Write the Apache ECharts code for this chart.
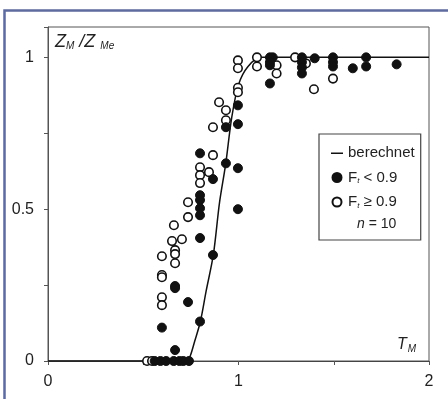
<!DOCTYPE html>
<html>
<head>
<meta charset="utf-8">
<script src="https://cdn.jsdelivr.net/npm/echarts@6/dist/echarts.min.js"></script>
<style>
  html, body { margin: 0; padding: 0; background: #fff; }
  #chart { width: 448px; height: 399px; }
</style>
</head>
<body>
<div id="chart"></div>
<script>
// berechnete Kurve
const curveT = [0, 0.70, 0.73, 0.745, 0.77, 0.80, 0.83, 0.868, 0.90, 0.933, 0.964, 1.00, 1.05, 1.12, 2.0];
const curveZ = [0, 0, 0.004, 0.014, 0.065, 0.13, 0.23, 0.35, 0.52, 0.65, 0.80, 0.91, 0.97, 1.0, 1.0];

// Messpunkte Ft < 0.9 (gefüllt)
const lowT = [1.165, 1.18, 1.165, 1.165, 1.165, 1.333, 1.333, 1.333, 1.333, 1.40, 1.496, 1.496, 1.496, 1.60, 1.67, 1.67, 1.83,
  0.997, 0.997, 0.934, 0.997, 0.934, 0.798, 0.866, 0.798, 0.798, 0.798, 0.798, 0.997, 0.798, 0.866, 0.667, 0.667, 0.735, 0.598, 0.798, 0.667,
  0.56, 0.59, 0.62, 0.66, 0.69, 0.71, 0.74];
const lowZ = [1.0, 1.0, 0.984, 0.974, 0.914, 1.0, 0.984, 0.967, 0.947, 0.997, 1.0, 0.984, 0.97, 0.964, 1.0, 0.97, 0.977,
  0.842, 0.78, 0.77, 0.635, 0.651, 0.684, 0.599, 0.546, 0.53, 0.503, 0.48, 0.5, 0.405, 0.349, 0.247, 0.24, 0.194, 0.11, 0.13, 0.036,
  0, 0, 0, 0, 0, 0, 0];

// Messpunkte Ft >= 0.9 (offen)
const highT = [0.997, 0.997, 1.097, 1.097, 1.20, 1.20, 1.297, 1.354, 1.396, 1.496, 0.997, 0.997, 0.898, 0.934, 0.934, 0.866, 0.866,
  0.798, 0.798, 0.845, 0.798, 0.735, 0.735, 0.661, 0.651, 0.703, 0.667, 0.667, 0.667, 0.598, 0.598, 0.598, 0.598, 0.598, 0.52, 0.546];
const highZ = [0.99, 0.964, 1.0, 0.97, 0.974, 0.947, 1.0, 0.98, 0.895, 0.93, 0.90, 0.885, 0.852, 0.826, 0.793, 0.77, 0.678,
  0.638, 0.612, 0.622, 0.586, 0.523, 0.474, 0.447, 0.395, 0.401, 0.365, 0.352, 0.322, 0.345, 0.283, 0.276, 0.21, 0.184, 0, 0];

const xTicks = [0, 1, 2];
const yTicks = [0, 0.5, 1];

const zip = (a, b) => a.map((v, i) => [v, b[i]]);

const chart = echarts.init(document.getElementById('chart'));
const font = 'Liberation Sans, Arial, sans-serif';

const option = {
  backgroundColor: '#fff',
  animation: false,
  grid: {
    left: 48, top: 27, right: 19, bottom: 38,
    show: true, borderColor: '#555', borderWidth: 1
  },
  xAxis: {
    type: 'value', min: 0, max: 2, interval: 0.5,
    axisLine: { lineStyle: { color: '#444', width: 1.2 } },
    axisTick: { show: true, length: 4, lineStyle: { color: '#555' } },
    splitLine: { show: false },
    axisLabel: {
      margin: 13, color: '#222', fontSize: 16, fontFamily: font,
      formatter: v => (xTicks.includes(v) ? String(v) : '')
    }
  },
  yAxis: {
    type: 'value', min: 0, max: 1.1, interval: 0.25,
    axisLine: { lineStyle: { color: '#555', width: 1 } },
    axisTick: { show: true, length: 4, lineStyle: { color: '#555' } },
    splitLine: { show: false },
    axisLabel: {
      margin: 14, color: '#222', fontSize: 16, fontFamily: font,
      formatter: v => (yTicks.includes(v) ? String(v) : '')
    }
  },
  legend: {
    left: 319, top: 134, orient: 'vertical',
    borderColor: '#444', borderWidth: 1.2, borderRadius: 0,
    padding: [11, 6, 30, 12],
    itemWidth: 12, itemHeight: 9, itemGap: 8.5,
    data: [
      { name: 'berechnet', icon: 'path://M0,0 M0,8 L24,8 L24,11 L0,11 Z M24,18' },
      { name: 'Ft < 0.9', icon: 'circle' },
      { name: 'Ft ≥ 0.9', icon: 'circle' }
    ],
    formatter: name => name.startsWith('Ft') ? '{f|F}{t|t}{r|' + name.slice(2) + '}' : name,
    textStyle: {
      color: '#222', fontSize: 15, fontFamily: font, lineHeight: 16,
      rich: {
        f: { fontSize: 15, fontFamily: font, color: '#222' },
        t: { fontSize: 8, fontFamily: font, fontStyle: 'italic', color: '#222', padding: [7, 0, 0, 0] },
        r: { fontSize: 15, fontFamily: font, color: '#222' }
      }
    }
  },
  graphic: [
    {
      type: 'rect', silent: true,
      shape: { x: 4.5, y: 10.5, width: 500, height: 500 },
      style: { fill: 'none', stroke: '#5d6b9f', lineWidth: 2.5 }
    },
    {
      type: 'text', left: 55, top: 33,
      style: {
        text: '{z|Z}{s|M}{z| /Z }{s|Me}',
        rich: {
          z: { fontSize: 18, fontStyle: 'italic', fontFamily: font, fill: '#222' },
          s: { fontSize: 10, fontStyle: 'italic', fontFamily: font, fill: '#222', padding: [9, 0, 0, 0] }
        }
      }
    },
    {
      type: 'text', left: 397, top: 337,
      style: {
        text: '{z|T}{s|M}',
        rich: {
          z: { fontSize: 16, fontStyle: 'italic', fontFamily: font, fill: '#222' },
          s: { fontSize: 10, fontStyle: 'italic', fontFamily: font, fill: '#222', padding: [8, 0, 0, 1] }
        }
      }
    },
    {
      type: 'text', left: 357, top: 217,
      style: { text: '{i|n} = 10', fontSize: 14, fontFamily: font, fill: '#222',
        rich: { i: { fontSize: 14, fontStyle: 'italic', fontFamily: font, fill: '#222' } } }
    }
  ],
  series: [
    {
      name: 'berechnet', type: 'line', data: zip(curveT, curveZ),
      symbol: 'none', smooth: 0.3,
      lineStyle: { color: '#111', width: 1.5 },
      itemStyle: { color: '#111' },
      z: 1
    },
    {
      name: 'Ft < 0.9', type: 'scatter', data: zip(lowT, lowZ),
      symbol: 'circle', symbolSize: 9,
      itemStyle: { color: '#111', borderColor: '#111', borderWidth: 1, opacity: 1 },
      z: 3
    },
    {
      name: 'Ft ≥ 0.9', type: 'scatter', data: zip(highT, highZ),
      symbol: 'circle', symbolSize: 8.5,
      itemStyle: { color: '#fff', borderColor: '#111', borderWidth: 1.6, opacity: 1 },
      z: 2
    }
  ]
};

chart.setOption(option);
</script>
</body>
</html>
